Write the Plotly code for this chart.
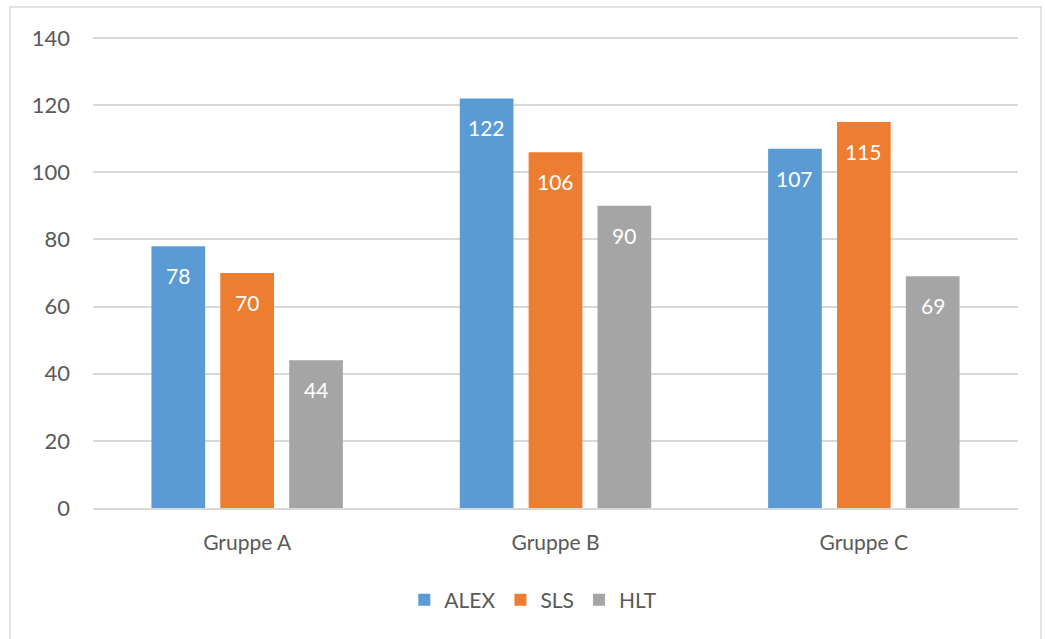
import plotly.graph_objects as go

# Chart data
groups = ["Gruppe A", "Gruppe B", "Gruppe C"]
alex = [78, 122, 107]
sls = [70, 106, 115]
hlt = [44, 90, 69]

series = [("ALEX", alex, "#5B9BD5"), ("SLS", sls, "#ED7D31"), ("HLT", hlt, "#A5A5A5")]
y_ticks = [0, 20, 40, 60, 80, 100, 120, 140]

W, H = 1045, 639
ML, MR, MT, MB = 93, 27, 36, 131
Y_MAX = 140.6
BARGAP = 0.33
BARGROUPGAP = 0.22
FONT = "Lato, Carlito, Calibri, sans-serif"

fig = go.Figure()
for name, vals, color in series:
    fig.add_trace(go.Bar(
        name=name, x=groups, y=vals,
        marker=dict(color=color, line=dict(width=0)),
        hoverinfo="x+y+name",
    ))

# value labels placed just inside the top of each bar
plot_w = W - ML - MR
slot = plot_w / len(groups) * (1 - BARGAP) / len(series)
annotations = []
for si, (name, vals, color) in enumerate(series):
    shift = (si - (len(series) - 1) / 2) * slot
    for g, v in zip(groups, vals):
        annotations.append(dict(
            x=g, y=v, xref="x", yref="y", text=str(v),
            showarrow=False, xshift=shift, yshift=-15, yanchor="top",
            font=dict(family=FONT, size=21, color="white"),
        ))

plot_h = H - MT - MB
# light outer frame around the chart (pixel positions converted to paper units)
def px_x(px):
    return (px - ML) / plot_w

def px_y(py):
    return (H - MB - py) / plot_h

frame = dict(
    type="rect", xref="paper", yref="paper",
    x0=px_x(10), x1=px_x(1041), y0=px_y(H + 10), y1=px_y(7),
    line=dict(color="#D9D9D9", width=1.5), fillcolor="rgba(0,0,0,0)", layer="below",
)

fig.update_layout(
    width=W, height=H,
    margin=dict(l=ML, r=MR, t=MT, b=MB),
    paper_bgcolor="white", plot_bgcolor="white",
    barmode="group", bargap=BARGAP, bargroupgap=BARGROUPGAP,
    font=dict(family=FONT, color="#595959", size=21),
    xaxis=dict(
        showgrid=False, showline=True, linecolor="#D9D9D9", linewidth=1.5,
        ticks="", tickfont=dict(size=21, color="#595959"), ticklabelstandoff=15,
    ),
    yaxis=dict(
        range=[0, Y_MAX], tickvals=y_ticks, showgrid=True, gridcolor="#D9D9D9",
        gridwidth=1.5, zeroline=False, showline=False, ticks="",
        tickfont=dict(size=22, color="#595959"), ticklabelstandoff=22,
    ),
    legend=dict(
        orientation="h", x=0.476, xanchor="center", y=px_y(600), yanchor="middle",
        font=dict(size=21, color="#595959"), itemwidth=30, traceorder="normal",
    ),
    annotations=annotations,
    shapes=[frame],
    showlegend=True,
)

fig.write_html("out.html")
